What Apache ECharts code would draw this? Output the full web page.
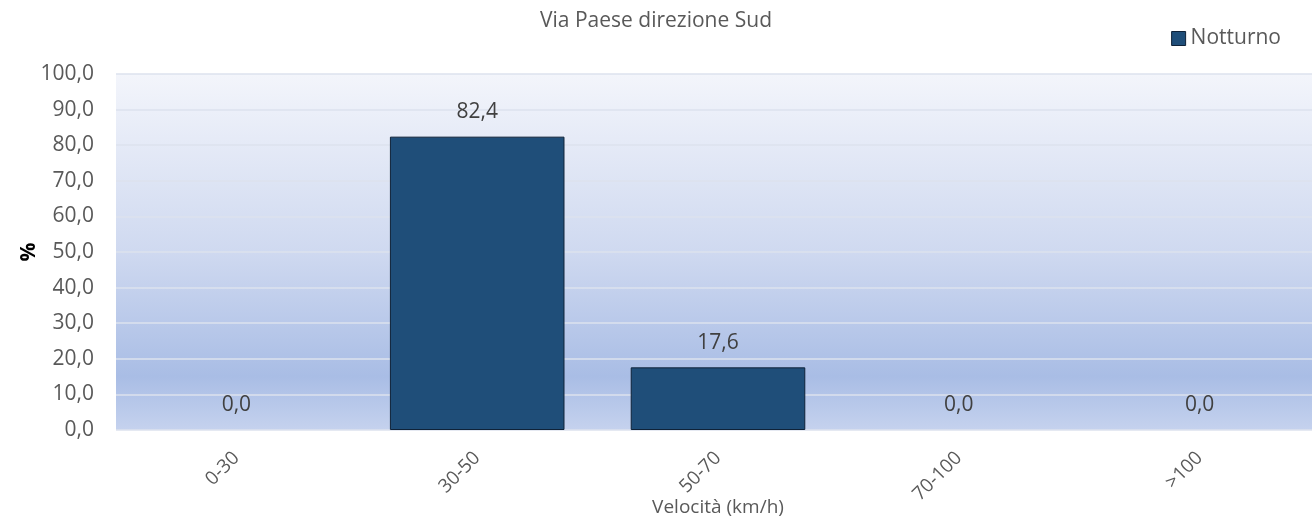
<!DOCTYPE html>
<html><head><meta charset="utf-8">
<script src="https://cdn.jsdelivr.net/npm/echarts@6/dist/echarts.min.js"></script>
<style>html,body{margin:0;padding:0;background:#fff}#c{width:1312px;height:525px}</style>
</head><body><div id="c"></div>
<script>
const categories = ['0-30', '30-50', '50-70', '70-100', '>100'];
const notturno = [0.0, 82.4, 17.6, 0.0, 0.0];
const yTicks = [0, 10, 20, 30, 40, 50, 60, 70, 80, 90, 100];
const titleText = 'Via Paese direzione Sud';
const seriesName = 'Notturno';
const xName = 'Velocità (km/h)';
const yName = '%';

const fmt = v => Number(v).toFixed(1).replace('.', ',');
const FONT = '"Open Sans", "Liberation Sans", sans-serif';
const chart = echarts.init(document.getElementById('c'), null, {renderer: 'canvas'});
chart.setOption({
  animation: false,
  textStyle: {fontFamily: FONT},
  title: {text: titleText, left: 'center', top: 6,
    textStyle: {fontFamily: FONT, fontSize: 21, fontWeight: 'normal', color: '#595959'}},
  legend: {data: [seriesName], right: 26, top: 23, icon: 'rect', itemWidth: 14, itemHeight: 14, itemGap: 6,
    textStyle: {fontFamily: FONT, fontSize: 21, color: '#595959'},
    itemStyle: {borderColor: '#0f2238', borderWidth: 1}},
  grid: {left: 116, top: 74, width: 1204, bottom: 95, show: true, borderWidth: 0,
    containLabel: false, outerBoundsMode: 'none',
    backgroundColor: {type: 'linear', x: 0, y: 0, x2: 0, y2: 1, colorStops: [
      {offset: 0, color: '#f3f5fb'},
      {offset: 0.5, color: '#cfd9f0'},
      {offset: 0.85, color: '#a9bde5'},
      {offset: 1, color: '#c5d2ee'}]}},
  xAxis: {type: 'category', data: categories,
    name: xName, nameLocation: 'middle', nameGap: 68, nameMoveOverlap: false,
    nameTextStyle: {fontFamily: FONT, fontSize: 19, color: '#595959'},
    axisLine: {show: false}, axisTick: {show: false},
    axisLabel: {rotate: 45, margin: 25, fontSize: 19, color: '#595959', fontFamily: FONT}},
  yAxis: {type: 'value', min: yTicks[0], max: yTicks[yTicks.length - 1], interval: 10,
    name: yName, nameLocation: 'middle', nameGap: 76, nameRotate: 90, nameMoveOverlap: false,
    nameTextStyle: {fontFamily: FONT, fontSize: 21, fontWeight: 'bold', color: '#000'},
    axisLine: {show: false}, axisTick: {show: false},
    axisLabel: {formatter: fmt, margin: 22, fontSize: 21, color: '#595959', fontFamily: FONT},
    splitLine: {lineStyle: {color: '#dde2ee', width: 1.5}}},
  series: [{name: seriesName, type: 'bar', barWidth: '72.5%',
    data: notturno.map(v => ({value: v, itemStyle: {borderWidth: v === 0 ? 0 : 1}})),
    itemStyle: {color: '#1f4e79', borderColor: '#0f2238', borderWidth: 1},
    label: {show: true, position: 'top', distance: 14, formatter: p => fmt(p.value),
      fontSize: 21, color: '#404040', fontFamily: FONT}}]
});
</script></body></html>
